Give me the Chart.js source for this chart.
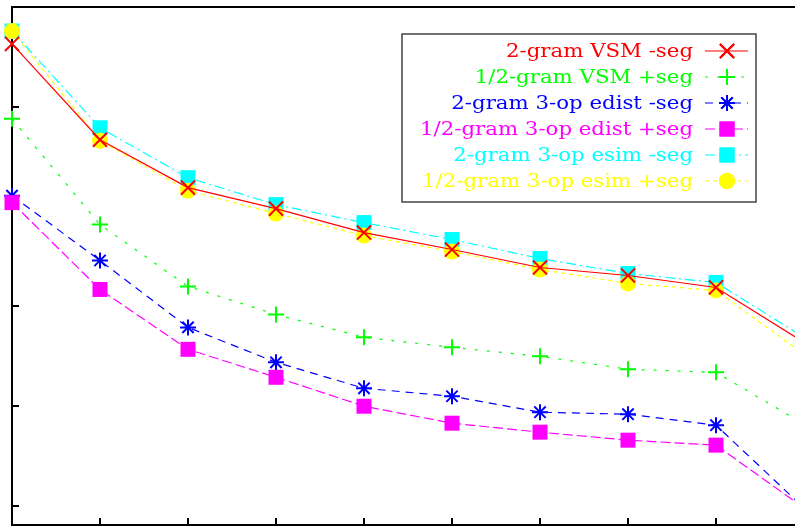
<!DOCTYPE html>
<html>
<head>
<meta charset="utf-8">
<script src="https://cdn.jsdelivr.net/npm/chart.js@4"></script>
<style>
    html, body { margin: 0; padding: 0; background: #fff; }
    #wrap { width: 795px; height: 527px; }
</style>
</head>
<body>
<div id="wrap"><canvas id="plot"></canvas></div>
<script>
const steps = [0, 1, 2, 3, 4, 5, 6, 7, 8, 9];
const xTicks = [1, 2, 3, 4, 5, 6, 7, 8];
const yTicks = [0, 1, 2, 3, 4];

const seriesNames = [
    '2-gram VSM -seg',
    '1/2-gram VSM +seg',
    '2-gram 3-op edist -seg',
    '1/2-gram 3-op edist +seg',
    '2-gram 3-op esim -seg',
    '1/2-gram 3-op esim +seg',
];

const vsmSeg = [4.63, 3.67, 3.19, 2.98, 2.74, 2.57, 2.39, 2.31, 2.19, 1.64];
const vsmHalf = [3.88, 2.82, 2.20, 1.92, 1.69, 1.59, 1.50, 1.37, 1.34, 0.82];
const edistSeg = [3.11, 2.46, 1.79, 1.44, 1.18, 1.10, 0.94, 0.92, 0.81, -0.02];
const edistHalf = [3.04, 2.17, 1.57, 1.29, 1.00, 0.83, 0.74, 0.66, 0.61, -0.02];
const esimSeg = [4.76, 3.79, 3.29, 3.02, 2.84, 2.67, 2.48, 2.33, 2.24, 1.69];
const esimHalf = [4.76, 3.66, 3.16, 2.93, 2.71, 2.55, 2.37, 2.23, 2.16, 1.52];

const colors = ['#ff0000', '#00ff00', '#0000ff', '#ff00ff', '#00ffff', '#ffff00'];
const shapes = ['crossRot', 'cross', 'star', 'rect', 'rect', 'circle'];
const sizes = [10, 8, 8, 10.6, 10.6, 8];
const dashes = [[], [3, 9], [8, 6], [10, 4], [10, 4, 2, 4], [4, 4]];
const layers = [0, 5, 4, 3, 2, 1];

const values = [vsmSeg, vsmHalf, edistSeg, edistHalf, esimSeg, esimHalf];

const datasets = values.map((vals, i) => ({
    label: seriesNames[i],
    data: vals.map((v, j) => ({ x: steps[j], y: v })),
    borderColor: colors[i],
    backgroundColor: colors[i],
    borderWidth: 1.2,
    borderDash: dashes[i],
    pointStyle: shapes[i],
    pointRadius: sizes[i],
    pointBorderWidth: shapes[i] === 'rect' || shapes[i] === 'circle' ? 0 : 2,
    pointBorderColor: colors[i],
    pointBackgroundColor: colors[i],
    order: layers[i],
    clip: false,
    tension: 0,
}));

// gnuplot-like frame: thick axes on left/bottom/top, ticks pointing inward
const frame = {
    id: 'frame',
    beforeDatasetsDraw(chart) {
        const { ctx, chartArea, scales } = chart;
        const { left, top, right, bottom } = chartArea;
        ctx.save();
        ctx.strokeStyle = '#000';
        ctx.lineWidth = 2;
        ctx.beginPath();
        ctx.moveTo(right + 5, top);
        ctx.lineTo(left, top);
        ctx.lineTo(left, bottom);
        ctx.lineTo(right + 5, bottom);
        ctx.stroke();

        ctx.beginPath();
        yTicks.forEach((t) => {
            const y = Math.round(scales.y.getPixelForValue(t));
            ctx.moveTo(left, y);
            ctx.lineTo(left + 7, y);
        });
        xTicks.forEach((t) => {
            const x = Math.round(scales.x.getPixelForValue(t));
            ctx.moveTo(x, bottom);
            ctx.lineTo(x, bottom - 7);
        });
        ctx.stroke();
        ctx.restore();
    },
    afterDraw(chart) {
        const { ctx } = chart;
        ctx.save();
        // key box
        const bx = 402, by = 34, bw = 354, bh = 168;
        ctx.fillStyle = '#fff';
        ctx.fillRect(bx, by, bw, bh);
        ctx.strokeStyle = '#444';
        ctx.lineWidth = 1.5;
        ctx.strokeRect(bx, by, bw, bh);

        ctx.font = '19px "DejaVu Serif"';
        ctx.textAlign = 'right';
        ctx.textBaseline = 'middle';
        chart.data.datasets.forEach((ds, i) => {
            const y = 51 + i * 26;
            ctx.save();
            ctx.translate(693, y + 1);
            ctx.scale(1.12, 1);
            ctx.fillStyle = ds.borderColor;
            ctx.fillText(ds.label, 0, 0);
            ctx.restore();

            ctx.strokeStyle = ds.borderColor;
            ctx.fillStyle = ds.borderColor;
            ctx.lineWidth = 1.2;
            ctx.setLineDash(ds.borderDash);
            ctx.beginPath();
            ctx.moveTo(705, y);
            ctx.lineTo(748, y);
            ctx.stroke();
            ctx.setLineDash([]);

            ctx.lineWidth = ds.pointBorderWidth || 1;
            Chart.helpers.drawPoint(ctx, {
                pointStyle: ds.pointStyle,
                radius: ds.pointRadius,
                rotation: 0,
                borderWidth: ds.pointBorderWidth,
            }, 727, y);
            if (ds.pointStyle === 'rect' || ds.pointStyle === 'circle') {
                ctx.fill();
            } else {
                ctx.stroke();
            }
        });
        ctx.restore();
    },
};

new Chart(document.getElementById('plot'), {
    type: 'line',
    data: { datasets },
    options: {
        responsive: true,
        maintainAspectRatio: false,
        animation: false,
        layout: { autoPadding: false, padding: { left: 12, top: 7, right: 0, bottom: 2 } },
        scales: {
            x: { type: 'linear', display: false, min: 0, max: 783 / 88 },
            y: { type: 'linear', display: false, min: -0.19, max: 5 },
        },
        plugins: {
            legend: { display: false },
            tooltip: { enabled: false },
        },
    },
    plugins: [frame],
});
</script>
</body>
</html>
